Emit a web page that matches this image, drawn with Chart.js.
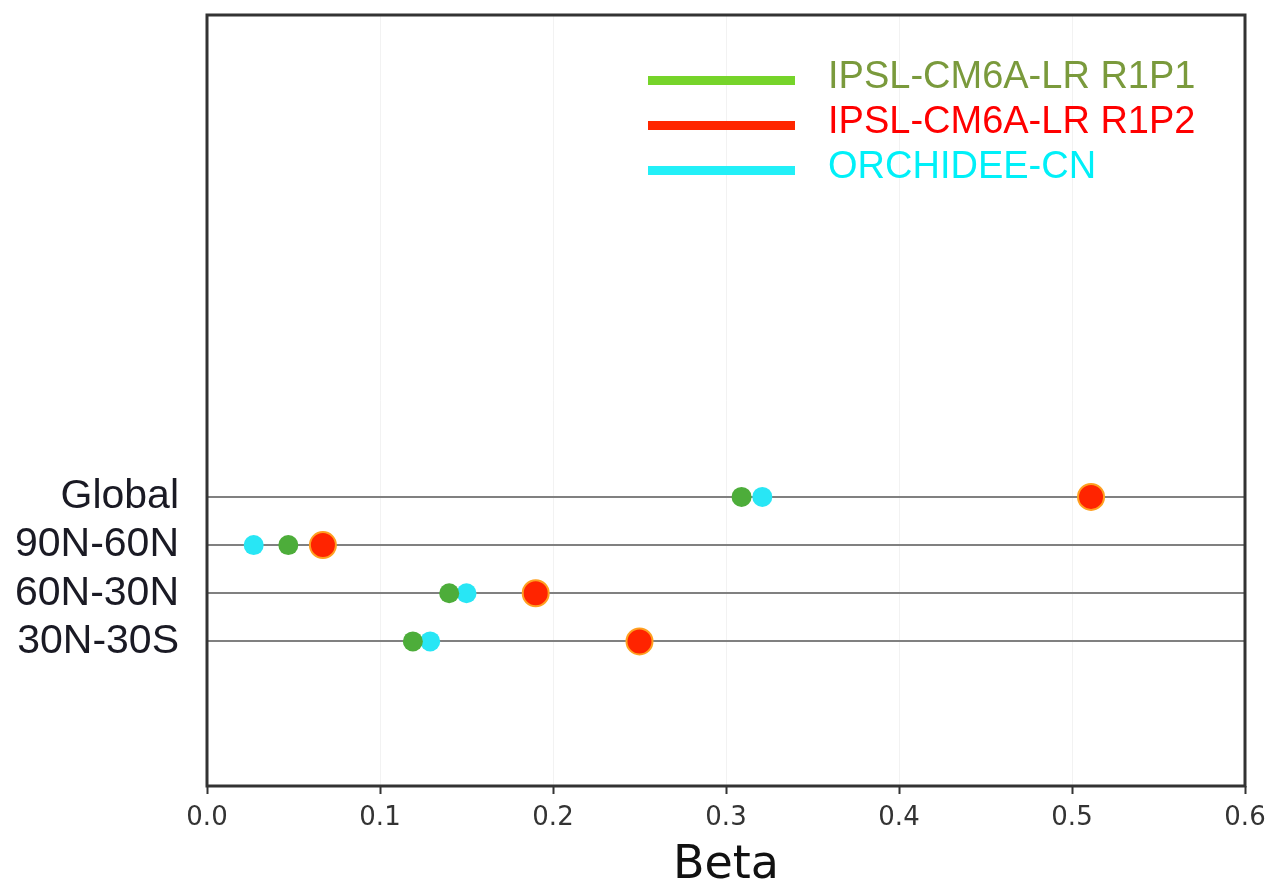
<!DOCTYPE html>
<html>
<head>
<meta charset="utf-8">
<script src="https://cdn.jsdelivr.net/npm/chart.js@4.4.1/dist/chart.umd.min.js"></script>
<style>
  html, body { margin: 0; padding: 0; background: #fff; }
  #wrap { width: 1270px; height: 889px; position: relative; }
</style>
</head>
<body>
<div id="wrap"><canvas id="myChart"></canvas></div>
<script>
// regions, bottom to top
var regions = ['30N-30S', '60N-30N', '90N-60N', 'Global'];
var regionPos = [3, 4, 5, 6];

var seriesNames = ['IPSL-CM6A-LR R1P1', 'ORCHIDEE-CN', 'IPSL-CM6A-LR R1P2'];
var r1p1 = [0.119, 0.140, 0.047, 0.309];
var orchidee = [0.129, 0.150, 0.027, 0.321];
var r1p2 = [0.250, 0.190, 0.067, 0.511];

var xTicks = [0.0, 0.1, 0.2, 0.3, 0.4, 0.5, 0.6];

// legend entries (order as in the picture)
var legendNames = ['IPSL-CM6A-LR R1P1', 'IPSL-CM6A-LR R1P2', 'ORCHIDEE-CN'];
var legendLine = ['#76d42a', '#ff2600', '#22f0f8'];
var legendText = ['#7a9a3c', '#ff0000', '#00f0f8'];

function toPoints(vals) {
    var pts = [];
    for (var i = 0; i < vals.length; i++) {
        pts.push({x: vals[i], y: regionPos[i]});
    }
    return pts;
}

// frame round the plot + legend in upper right
var framePlugin = {
    id: 'frame',
    afterDraw: function (chart) {
        var ctx = chart.ctx;
        var a = chart.chartArea;
        ctx.save();
        ctx.strokeStyle = '#333';
        ctx.lineWidth = 3;
        ctx.strokeRect(a.left, a.top, a.right - a.left, a.bottom - a.top);

        var x0 = a.left + 441;
        var y0 = 80;
        ctx.font = '38px "Liberation Sans", Arial, sans-serif';
        ctx.textBaseline = 'middle';
        for (var i = 0; i < legendNames.length; i++) {
            var y = y0 + i * 45;
            ctx.fillStyle = legendLine[i];
            ctx.fillRect(x0, y - 4, 147, 9);
            ctx.fillStyle = legendText[i];
            ctx.fillText(legendNames[i], x0 + 180, y - 2);
        }
        ctx.restore();
    }
};

var ctx = document.getElementById('myChart').getContext('2d');
var myChart = new Chart(ctx, {
    type: 'scatter',
    data: {
        datasets: [{
            label: seriesNames[0],
            data: toPoints(r1p1),
            backgroundColor: '#4dad3a',
            borderColor: '#4dad3a',
            pointRadius: 10,
            pointHoverRadius: 10,
            borderWidth: 0
        }, {
            label: seriesNames[1],
            data: toPoints(orchidee),
            backgroundColor: '#28e6f5',
            borderColor: '#28e6f5',
            pointRadius: 10,
            pointHoverRadius: 10,
            borderWidth: 0
        }, {
            label: seriesNames[2],
            data: toPoints(r1p2),
            backgroundColor: '#ff2400',
            borderColor: '#ffa020',
            pointRadius: 13,
            pointHoverRadius: 13,
            borderWidth: 2
        }]
    },
    options: {
        responsive: true,
        maintainAspectRatio: false,
        animation: false,
        layout: { padding: { top: 13, right: 25, left: 0, bottom: 0 } },
        plugins: {
            legend: { display: false },
            tooltip: { enabled: false }
        },
        scales: {
            x: {
                type: 'linear',
                min: 0,
                max: 0.6,
                afterBuildTicks: function (scale) {
                    scale.ticks = xTicks.map(function (v) { return {value: v}; });
                },
                afterFit: function (scale) {
                    scale.height = 103;
                    scale.paddingLeft = 0;
                    scale.paddingRight = 0;
                },
                ticks: {
                    color: '#333',
                    font: { family: '"DejaVu Sans", sans-serif', size: 26 },
                    padding: 9,
                    callback: function (v) { return v.toFixed(1); }
                },
                grid: {
                    color: 'rgba(0,0,0,0.05)',
                    tickColor: '#333',
                    tickLength: 8,
                    tickWidth: 2
                },
                border: { display: false },
                title: {
                    display: true,
                    text: 'Beta',
                    color: '#111',
                    font: { family: '"DejaVu Sans", sans-serif', size: 46, lineHeight: 1 },
                    padding: 0
                }
            },
            y: {
                type: 'linear',
                min: 0,
                max: 16,
                afterBuildTicks: function (scale) {
                    scale.ticks = regionPos.map(function (v) { return {value: v}; });
                },
                afterFit: function (scale) {
                    scale.width = 207;
                    scale.paddingTop = 0;
                    scale.paddingBottom = 0;
                },
                ticks: {
                    color: '#1a1a24',
                    font: { family: '"Liberation Sans", Arial, sans-serif', size: 41 },
                    padding: 28,
                    callback: function (v) {
                        var i = regionPos.indexOf(v);
                        return i >= 0 ? regions[i] : '';
                    }
                },
                grid: {
                    color: '#808080',
                    lineWidth: 2,
                    drawTicks: false
                },
                border: { display: false }
            }
        }
    },
    plugins: [framePlugin]
});
</script>
</body>
</html>
